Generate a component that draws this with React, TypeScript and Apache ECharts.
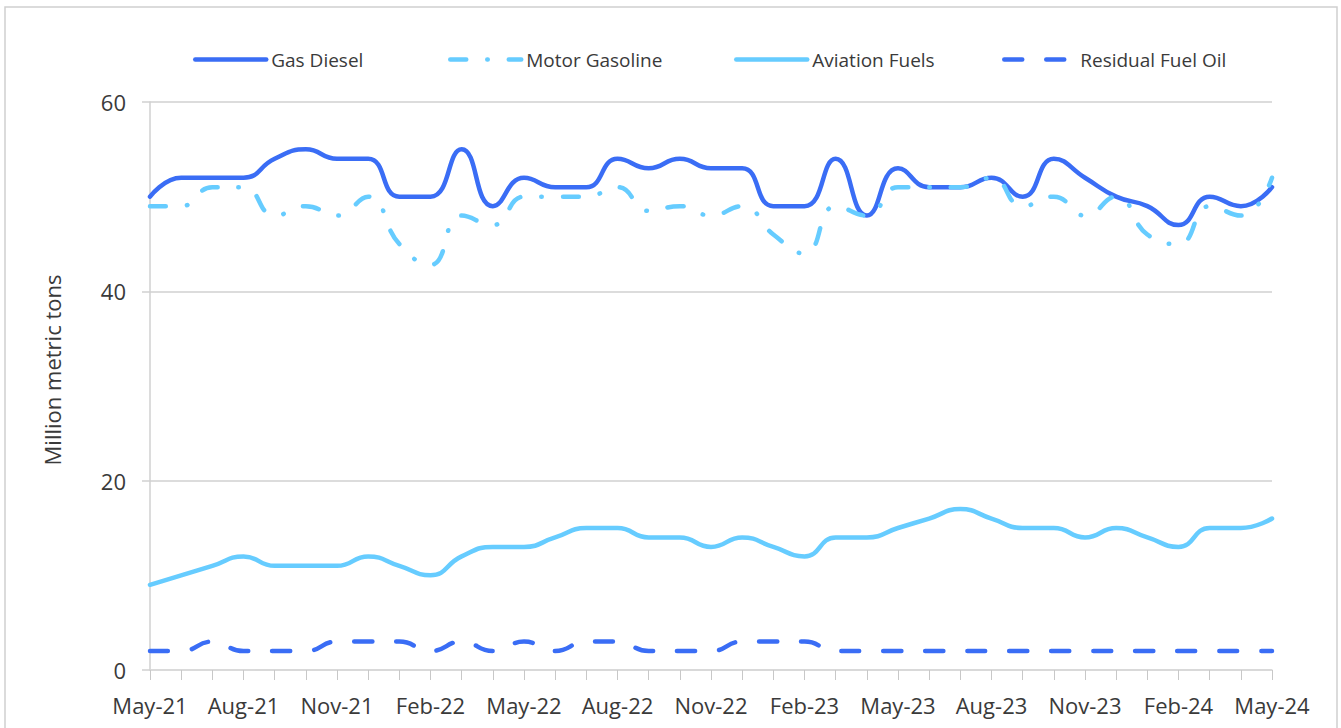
import React, { useEffect, useRef } from "react";
import * as echarts from "echarts";

const months = [
  "May-21","Jun-21","Jul-21","Aug-21","Sep-21","Oct-21","Nov-21","Dec-21",
  "Jan-22","Feb-22","Mar-22","Apr-22","May-22","Jun-22","Jul-22","Aug-22",
  "Sep-22","Oct-22","Nov-22","Dec-22","Jan-23","Feb-23","Mar-23","Apr-23",
  "May-23","Jun-23","Jul-23","Aug-23","Sep-23","Oct-23","Nov-23","Dec-23",
  "Jan-24","Feb-24","Mar-24","Apr-24","May-24",
];

const gasDiesel = [50,52,52,52,54,55,54,54,50,50,55,49,52,51,51,54,53,54,53,53,49,49,54,48,53,51,51,52,50,54,52,50,49,47,50,49,51];
const motorGasoline = [49,49,51,51,48,49,48,50,45,42.8,48,47,50,50,50,51,48.5,49,48,49,46,44,49,48,51,51,51,52,49,50,48,50,46,45,49,48,52];
const aviationFuels = [9,10,11,12,11,11,11,12,11,10,12,13,13,14,15,15,14,14,13,14,13,12,14,14,15,16,17,16,15,15,14,15,14,13,15,15,16];
const residualFuelOil = [2,2,3,2,2,2,3,3,3,2,3,2,3,2,3,3,2,2,2,3,3,3,2,2,2,2,2,2,2,2,2,2,2,2,2,2,2];

const yTicks = { min: 0, max: 60, interval: 20 };
const yTitle = "Million metric tons";

const DARK = "#3A6DF5";
const LIGHT = "#66CCFF";
const FONT = "'Open Sans', 'Noto Sans', sans-serif";
const TEXT = "#3a3a3a";

export default function App() {
  const ref = useRef<HTMLDivElement>(null);
  useEffect(() => {
    if (!ref.current) return;
    const chart = echarts.init(ref.current, undefined, { renderer: "svg" });
    const mkLine = (name: string, data: number[], color: string, type: any) => ({
      name,
      type: "line",
      data,
      smooth: 0.5,
      showSymbol: false,
      symbol: "none",
      lineStyle: { color, width: 4.5, type, cap: "round", join: "round" },
      itemStyle: { color },
    });
    const legendBase = {
      top: 50,
      padding: 0,
      itemWidth: 71,
      itemHeight: 14,
      itemStyle: { opacity: 0 },
      lineStyle: { width: 4.5, cap: "round" },
      textStyle: { fontFamily: FONT, fontSize: 19, color: TEXT },
      selectedMode: false,
    };
    chart.setOption({
      animation: false,
      textStyle: { fontFamily: FONT },
      graphic: [
        {
          type: "rect",
          shape: { x: 5, y: 7, width: 1332, height: 800 },
          style: { fill: "none", stroke: "#d0d0d0", lineWidth: 1.5 },
          silent: true,
        },
        {
          type: "text",
          x: 52,
          y: 370,
          rotation: Math.PI / 2,
          style: {
            text: yTitle,
            fontSize: 22,
            fontFamily: FONT,
            fill: TEXT,
            align: "center",
            verticalAlign: "middle",
          },
          silent: true,
        },
      ],
      legend: [
        { ...legendBase, left: 193, data: ["Gas Diesel"] },
        { ...legendBase, left: 448, data: ["Motor Gasoline"] },
        { ...legendBase, left: 734, data: ["Aviation Fuels"] },
        { ...legendBase, left: 1002, data: ["Residual Fuel Oil"] },
      ],
      grid: { left: 150, right: 69, top: 102, bottom: 58, containLabel: false },
      xAxis: {
        type: "category",
        data: months,
        boundaryGap: false,
        axisLine: { show: true, lineStyle: { color: "#d9d9d9", width: 1.5 } },
        axisTick: { show: true, interval: 0, length: 10, lineStyle: { color: "#c8c8c8", width: 1 } },
        axisLabel: { interval: 2, margin: 24, fontSize: 22, color: TEXT, fontFamily: FONT },
        splitLine: { show: false },
      },
      yAxis: {
        type: "value",
        min: yTicks.min,
        max: yTicks.max,
        interval: yTicks.interval,
        axisLine: { show: true, lineStyle: { color: "#d0d0d0", width: 1.5 } },
        axisTick: { show: true, length: 8, lineStyle: { color: "#d0d0d0", width: 1.5 } },
        axisLabel: { margin: 24, fontSize: 22, color: TEXT, fontFamily: FONT },
        splitLine: { show: true, lineStyle: { color: "#d0d0d0", width: 1.5 } },
      },
      series: [
        mkLine("Gas Diesel", gasDiesel, DARK, "solid"),
        mkLine("Motor Gasoline", motorGasoline, LIGHT, [16, 21, 0.5, 21]),
        mkLine("Aviation Fuels", aviationFuels, LIGHT, "solid"),
        mkLine("Residual Fuel Oil", residualFuelOil, DARK, [18, 24]),
      ],
    });
    return () => chart.dispose();
  }, []);
  return (
    <div
      ref={ref}
      style={{ position: "fixed", left: 0, top: 0, width: 1341, height: 728, background: "#fff" }}
    />
  );
}
